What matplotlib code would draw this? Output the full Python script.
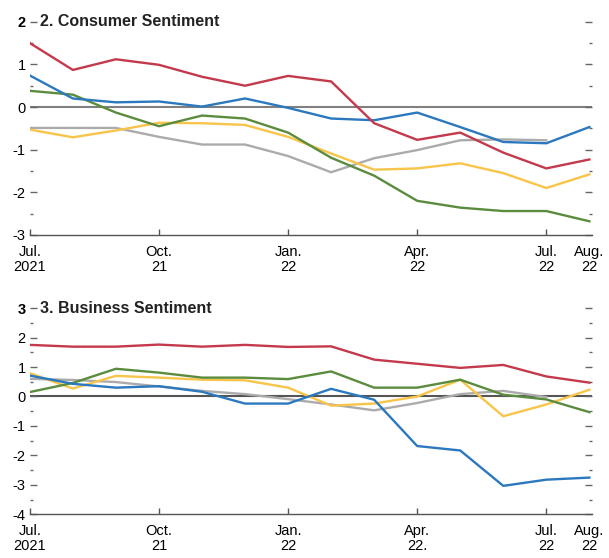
import numpy as np
import matplotlib.pyplot as plt
import matplotlib.transforms as mtransforms

plt.rcParams['font.family'] = ['Liberation Sans', 'DejaVu Sans']

# months Jul 2021 .. Aug 2022
months = np.arange(14)
tick_pos = [0, 3, 6, 9, 12, 13]
top_labels = ["Jul.\n2021", "Oct.\n21", "Jan.\n22", "Apr.\n22", "Jul.\n22", "Aug.\n22"]
bottom_labels = ["Jul.\n2021", "Oct.\n21", "Jan.\n22", "Apr.\n22.", "Jul.\n22", "Aug.\n22"]

# 2-2. Consumer Sentiment
cons_red = [1.50, 0.87, 1.12, 0.99, 0.71, 0.50, 0.73, 0.60, -0.38, -0.77, -0.60, -1.07, -1.44, -1.23]
cons_blue = [0.74, 0.20, 0.11, 0.13, 0.01, 0.20, -0.02, -0.27, -0.31, -0.13, -0.47, -0.82, -0.85, -0.47]
cons_green = [0.38, 0.29, -0.13, -0.45, -0.20, -0.27, -0.60, -1.19, -1.61, -2.20, -2.36, -2.44, -2.44, -2.68]
cons_yellow = [-0.53, -0.71, -0.55, -0.37, -0.38, -0.42, -0.70, -1.09, -1.47, -1.44, -1.32, -1.55, -1.90, -1.58]
cons_gray = [-0.49, -0.49, -0.49, -0.70, -0.88, -0.88, -1.15, -1.53, -1.20, -1.01, -0.78, -0.76, -0.78, np.nan]

# 3-3. Business Sentiment
bus_red = [1.75, 1.69, 1.69, 1.76, 1.69, 1.75, 1.68, 1.70, 1.25, 1.11, 0.97, 1.07, 0.68, 0.47]
bus_green = [0.15, 0.46, 0.94, 0.81, 0.64, 0.64, 0.59, 0.85, 0.30, 0.30, 0.57, 0.06, -0.10, -0.53]
bus_yellow = [0.79, 0.27, 0.70, 0.64, 0.57, 0.55, 0.30, -0.31, -0.24, 0.00, 0.57, -0.67, -0.27, 0.23]
bus_blue = [0.71, 0.43, 0.30, 0.35, 0.16, -0.24, -0.24, 0.26, -0.11, -1.68, -1.83, -3.03, -2.82, -2.75]
bus_gray = [0.60, 0.56, 0.49, 0.34, 0.19, 0.08, -0.09, -0.27, -0.47, -0.22, 0.08, 0.19, -0.02, np.nan]

RED = '#c4394c'
BLUE = '#2b78bf'
GREEN = '#5b8c3e'
YELLOW = '#f8c44a'
GRAY = '#ababab'

fig = plt.figure(figsize=(6.09, 5.58), dpi=100)
ax1 = fig.add_axes([0.049, 0.579, 0.923, 0.382])
ax2 = fig.add_axes([0.049, 0.078, 0.923, 0.370])


def style(ax, ymin, ymax, labels, title, zero_color, xpad, lsp):
    ax.set_xlim(0, 13.06)
    ax.set_ylim(ymin, ymax)
    for s in ['top', 'right', 'left']:
        ax.spines[s].set_visible(False)
    ax.spines['bottom'].set_color('#555555')
    ax.spines['bottom'].set_linewidth(1.0)
    ax.axhline(0, color=zero_color, lw=1.5, zorder=1)
    ax.set_yticks(np.arange(ymin, ymax + 1))
    ax.set_yticklabels([str(v) for v in range(ymin, ymax + 1)])
    ax.set_yticks(np.arange(ymin + 0.5, ymax, 1.0), minor=True)
    ax.tick_params(axis='y', which='major', direction='in', length=5, width=1,
                   color='#666666', labelsize=10.5, pad=3, right=True)
    ax.tick_params(axis='y', which='minor', direction='in', length=2, width=1,
                   color='#666666', right=True)
    ax.yaxis.get_major_ticks()[-1].label1.set_fontweight('bold')
    ax.set_xticks(tick_pos)
    ax.set_xticklabels(labels, linespacing=lsp)
    ax.tick_params(axis='x', direction='in', length=4, width=1, color='#555555',
                   labelsize=10.5, pad=xpad)
    ax.xaxis.get_major_ticks()[-1].tick1line.set_visible(False)
    trans = mtransforms.blended_transform_factory(ax.transAxes, ax.transData)
    ax.text(0.018, ymax, title, transform=trans, va='center', ha='left',
            fontsize=11.5, fontweight='bold', color='#222222')


style(ax1, -3, 2, top_labels, "2. Consumer Sentiment", '#808080', 7, 1.15)
ax1.plot(months, cons_gray, color=GRAY, lw=1.7)
ax1.plot(months, cons_yellow, color=YELLOW, lw=1.7)
ax1.plot(months, cons_green, color=GREEN, lw=1.7)
ax1.plot(months, cons_blue, color=BLUE, lw=1.7)
ax1.plot(months, cons_red, color=RED, lw=1.7)

style(ax2, -4, 3, bottom_labels, "3. Business Sentiment", '#555555', 7, 1.05)
ax2.plot(months, bus_gray, color=GRAY, lw=1.7)
ax2.plot(months, bus_yellow, color=YELLOW, lw=1.7)
ax2.plot(months, bus_green, color=GREEN, lw=1.7)
ax2.plot(months, bus_blue, color=BLUE, lw=1.7)
ax2.plot(months, bus_red, color=RED, lw=1.7)

fig.savefig('out.png', dpi=100)
